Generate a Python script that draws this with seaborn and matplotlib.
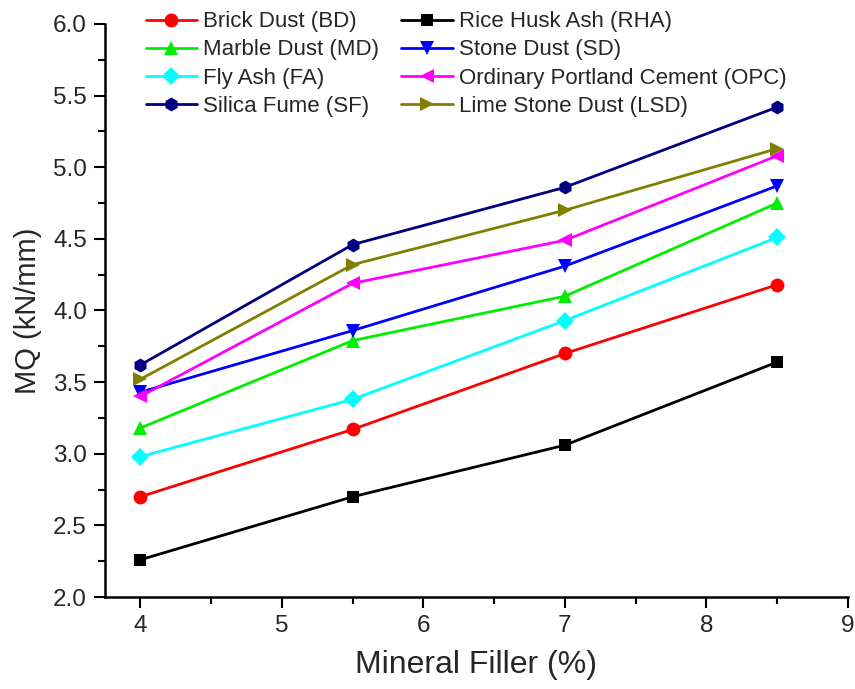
import matplotlib
matplotlib.use("Agg")
import matplotlib.pyplot as plt
from matplotlib.ticker import MultipleLocator, FormatStrFormatter
import seaborn as sns
import pandas as pd

# Mineral filler content (%)
filler = [4, 5.5, 7, 8.5]

# Marshall quotient (kN/mm) for each filler type
bd = [2.70, 3.17, 3.70, 4.18]
rha = [2.26, 2.70, 3.06, 3.64]
md = [3.18, 3.79, 4.10, 4.75]
sd = [3.43, 3.86, 4.31, 4.87]
fa = [2.98, 3.38, 3.93, 4.51]
opc = [3.40, 4.19, 4.49, 5.08]
sf = [3.62, 4.46, 4.86, 5.42]
lsd = [3.52, 4.32, 4.70, 5.13]

names = ["Brick Dust (BD)", "Rice Husk Ash (RHA)", "Marble Dust (MD)",
         "Stone Dust (SD)", "Fly Ash (FA)", "Ordinary Portland Cement (OPC)",
         "Silica Fume (SF)", "Lime Stone Dust (LSD)"]
series = [bd, rha, md, sd, fa, opc, sf, lsd]
colors = ["#ff0000", "#000000", "#00ee00", "#0000ff", "#00ffff",
          "#ff00ff", "#000080", "#808000"]
markers = ["o", "s", "^", "v", "D", "<", "h", ">"]
sizes = [10, 8.5, 10.5, 10.5, 9, 10.5, 10, 10.5]

rows = []
for name, vals in zip(names, series):
    for x, y in zip(filler, vals):
        rows.append({"Filler": x, "MQ": y, "Type": name})
df = pd.DataFrame(rows)

sns.set_style("ticks")
plt.rcParams["font.family"] = ["Liberation Sans", "DejaVu Sans"]

fig = plt.figure(figsize=(8.55, 6.89), dpi=100)
ax = fig.add_axes([0.1228, 0.1335, 0.869, 0.8317])

handles = {}
for name, c, m, ms in zip(names, colors, markers, sizes):
    sub = df[df["Type"] == name]
    sns.lineplot(data=sub, x="Filler", y="MQ", ax=ax, color=c, marker=m,
                 markersize=ms, markeredgewidth=0, linewidth=2.0,
                 label=name, legend=False)
    handles[name] = ax.lines[-1]

ax.set_xlim(3.75, 9)
ax.set_ylim(2.0, 6.0)
ax.xaxis.set_major_locator(MultipleLocator(1))
ax.xaxis.set_minor_locator(MultipleLocator(0.5))
ax.yaxis.set_major_locator(MultipleLocator(0.5))
ax.yaxis.set_minor_locator(MultipleLocator(0.25))
ax.yaxis.set_major_formatter(FormatStrFormatter("%.1f"))
ax.tick_params(which="major", direction="out", length=8, width=1.5,
               labelsize=17.5, color="black", pad=5)
ax.tick_params(which="minor", direction="out", length=5, width=1.5,
               color="black")
for s in ["left", "bottom"]:
    ax.spines[s].set_linewidth(1.8)
    ax.spines[s].set_color("black")
for s in ["top", "right"]:
    ax.spines[s].set_visible(False)

ax.set_xlabel("Mineral Filler (%)", fontsize=23, labelpad=9)
ax.set_ylabel("MQ (kN/mm)", fontsize=21, labelpad=8)

# two-column legend, filled row by row
order = [names[0], names[2], names[4], names[6],
         names[1], names[3], names[5], names[7]]
ax.legend([handles[n] for n in order], order, ncol=2, frameon=False,
          loc="upper left", bbox_to_anchor=(0.055, 1.022), fontsize=16,
          handlelength=2.3, handletextpad=0.28, columnspacing=1.0,
          labelspacing=0.32, borderpad=0, borderaxespad=0)

fig.savefig("out.png", dpi=100, facecolor="white")
